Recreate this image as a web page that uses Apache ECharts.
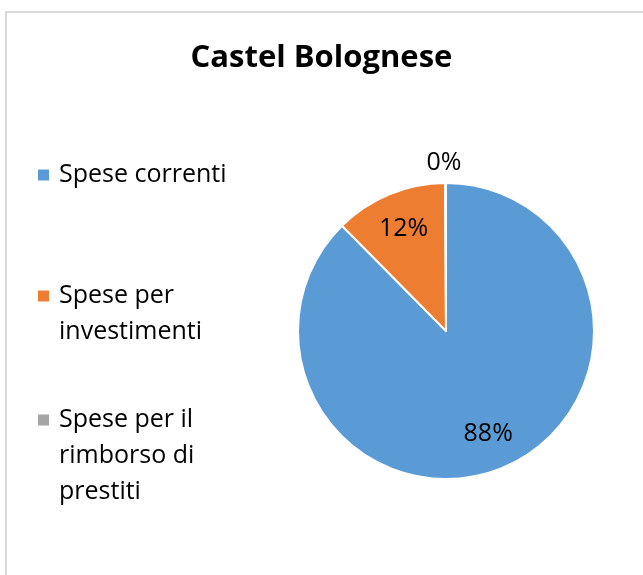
<!DOCTYPE html>
<html>
<head>
<meta charset="utf-8">
<script src="https://cdn.jsdelivr.net/npm/echarts@6/dist/echarts.min.js"></script>
<style>
  html, body { margin: 0; padding: 0; background: #fff; }
  #chart { width: 643px; height: 575px; }
</style>
</head>
<body>
<div id="chart"></div>
<script>
  const titleText = 'Castel Bolognese'
  const categories = ['Spese correnti', 'Spese per investimenti', 'Spese per il rimborso di prestiti']
  const legendLabels = ['Spese correnti', 'Spese per\ninvestimenti', 'Spese per il\nrimborso di\nprestiti']
  const values = [87.6, 12.3, 0.1]
  const colors = ['#5B9BD5', '#ED7D31', '#A5A5A5']

  // layout
  const font = 'Open Sans'
  const lineH = 36
  const legendCenters = [175, 296, 420] // icon centre of each legend entry
  const pieCenter = [446, 331]
  const pieRadius = 148
  const total = values.reduce((a, b) => a + b, 0)

  const chart = echarts.init(document.getElementById('chart'))

  // one legend per entry; blank lines on top push the first text line onto the icon
  const legends = categories.map((name, i) => {
    const n = legendLabels[i].split('\n').length
    return {
      orient: 'vertical',
      left: 38,
      top: legendCenters[i] - (2 * n - 1) * lineH / 2,
      padding: 0,
      itemWidth: 11,
      itemHeight: 11,
      itemGap: 0,
      icon: 'rect',
      itemStyle: { borderWidth: 0 },
      selectedMode: false,
      data: [name],
      formatter: () => '\n'.repeat(n - 1) + legendLabels[i],
      textStyle: { fontFamily: font, fontSize: 25, lineHeight: lineH, color: '#000', padding: [0, 0, 0, 5] }
    }
  })

  const labelStyle = { fontFamily: font, fontSize: 25, color: '#000', formatter: '{d}%' }

  chart.setOption({
    animation: false,
    graphic: [{
      type: 'rect',
      silent: true,
      z: -1,
      shape: { x: 6, y: 12, width: 1000, height: 1000 },
      style: { fill: 'none', stroke: '#D9D9D9', lineWidth: 2 }
    }],
    title: {
      text: titleText,
      left: 'center',
      top: 38,
      padding: [5, 5, 5, 17],
      textStyle: { fontFamily: font, fontSize: 31, fontWeight: 'bold', color: '#000' }
    },
    legend: legends,
    series: [{
      // slices
      type: 'pie',
      center: pieCenter,
      radius: [0, pieRadius],
      startAngle: 90,
      clockwise: true,
      percentPrecision: 0,
      avoidLabelOverlap: false,
      itemStyle: { borderColor: '#fff', borderWidth: 2 },
      label: { show: false },
      labelLine: { show: false, length: 20, length2: -21 },
      emphasis: { disabled: true },
      data: categories.map((name, i) => ({
        name: name,
        value: values[i],
        itemStyle: { color: colors[i] },
        label: values[i] / total < 0.005
          ? Object.assign({ show: true, position: 'outside' }, labelStyle)
          : { show: false }
      }))
    }, {
      // transparent copy, used only to put the inside labels further out
      type: 'pie',
      center: pieCenter,
      radius: [0, pieRadius * 1.46],
      startAngle: 90,
      clockwise: true,
      percentPrecision: 0,
      silent: true,
      avoidLabelOverlap: false,
      itemStyle: { color: 'rgba(0,0,0,0)' },
      labelLine: { show: false },
      emphasis: { disabled: true },
      label: Object.assign({ show: true, position: 'inside' }, labelStyle),
      data: categories.map((name, i) => ({
        name: name,
        value: values[i],
        label: { show: values[i] / total >= 0.005 }
      }))
    }]
  })
</script>
</body>
</html>
